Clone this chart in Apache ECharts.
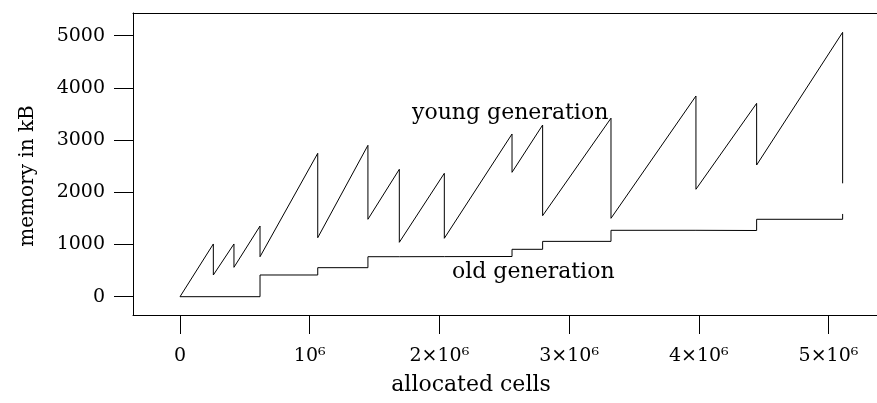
<!DOCTYPE html>
<html>
<head>
<meta charset="utf-8">
<script src="https://cdn.jsdelivr.net/npm/echarts@6/dist/echarts.min.js"></script>
<style>
html,body{margin:0;padding:0;background:#fff;}
#chart{width:877px;height:403px;}
</style>
</head>
<body>
<div id="chart"></div>
<script>
// Young generation: sawtooth — grows linearly, then drops at each collection
var youngCollectX = [257000, 416000, 617000, 1062000, 1449000, 1691000, 2038000, 2560000, 2796000, 3323000, 3978000, 4446000, 5109000];
var youngPeak     = [1010, 1010, 1354, 2747, 2900, 2441, 2364, 3117, 3289, 3420, 3845, 3704, 5065];
var youngTrough   = [416, 563, 766, 1130, 1483, 1042, 1119, 2383, 1552, 1502, 2058, 2523, 2172];
var youngStart    = [0, 0];

// Old generation: step function
var oldX = [0, 617000, 1062000, 1449000, 1691000, 2038000, 2560000, 2796000, 3323000, 3978000, 4446000, 5109000];
var oldY = [0, 416, 556, 766, 768, 770, 908, 1060, 1272, 1268, 1483, 1585];

// Tick values and labels
var xTickValues = [0, 1000000, 2000000, 3000000, 4000000, 5000000];
var xTickLabels = ['0', '10\u2076', '2\u00d710\u2076', '3\u00d710\u2076', '4\u00d710\u2076', '5\u00d710\u2076'];
var yTickValues = [0, 1000, 2000, 3000, 4000, 5000];
var yTickLabels = ['0', '1000', '2000', '3000', '4000', '5000'];

var youngData = [youngStart];
for (var i = 0; i < youngCollectX.length; i++) {
  youngData.push([youngCollectX[i], youngPeak[i]]);
  youngData.push([youngCollectX[i], youngTrough[i]]);
}
var oldData = oldX.map(function (x, i) { return [x, oldY[i]]; });

var FONT = 'DejaVu Serif';
var chart = echarts.init(document.getElementById('chart'), null, {renderer: 'canvas'});
chart.setOption({
  animation: false,
  backgroundColor: '#fff',
  grid: {left: 133, top: 13, right: 0, bottom: 88, containLabel: false},
  xAxis: [{
    type: 'value',
    min: -362400,
    max: 5374000,
    position: 'bottom',
    splitLine: {show: false},
    axisLine: {show: true, onZero: false, lineStyle: {color: '#000', width: 1}},
    axisTick: {show: true, length: 19, inside: false, customValues: xTickValues, lineStyle: {color: '#000', width: 1}},
    axisLabel: {
      show: true, margin: 32, customValues: xTickValues,
      fontFamily: FONT, fontSize: 19, color: '#000',
      formatter: function (v) { return xTickLabels[xTickValues.indexOf(v)]; }
    }
  }, {
    type: 'value',
    min: -362400,
    max: 5374000,
    position: 'top',
    splitLine: {show: false},
    axisLine: {show: true, onZero: false, lineStyle: {color: '#000', width: 1}},
    axisTick: {show: false},
    axisLabel: {show: false}
  }],
  yAxis: {
    type: 'value',
    min: -350.6,
    max: 5435,
    splitLine: {show: false},
    axisLine: {show: true, onZero: false, lineStyle: {color: '#000', width: 1}},
    axisTick: {show: true, length: 19, inside: false, customValues: yTickValues, lineStyle: {color: '#000', width: 1}},
    axisLabel: {
      show: true, margin: 28, customValues: yTickValues,
      fontFamily: FONT, fontSize: 19, color: '#000',
      formatter: function (v) { return yTickLabels[yTickValues.indexOf(v)]; }
    }
  },
  series: [{
    name: 'young generation',
    type: 'line',
    data: youngData,
    showSymbol: false,
    symbol: 'none',
    lineStyle: {color: '#000', width: 1},
    silent: true
  }, {
    name: 'old generation',
    type: 'line',
    step: 'end',
    data: oldData,
    showSymbol: false,
    symbol: 'none',
    lineStyle: {color: '#000', width: 1},
    silent: true
  }],
  graphic: [{
    type: 'text', x: 412, y: 113,
    style: {text: 'young generation', font: '22px "DejaVu Serif"', fill: '#000', align: 'left', verticalAlign: 'middle'}
  }, {
    type: 'text', x: 452, y: 272,
    style: {text: 'old generation', font: '22px "DejaVu Serif"', fill: '#000', align: 'left', verticalAlign: 'middle'}
  }, {
    type: 'text', x: 471, y: 385,
    style: {text: 'allocated cells', font: '22px "DejaVu Serif"', fill: '#000', align: 'center', verticalAlign: 'middle'}
  }, {
    type: 'text', x: 28, y: 176, rotation: Math.PI / 2,
    style: {text: 'memory in kB', font: '20px "DejaVu Serif"', fill: '#000', align: 'center', verticalAlign: 'middle'}
  }]
});
</script>
</body>
</html>
